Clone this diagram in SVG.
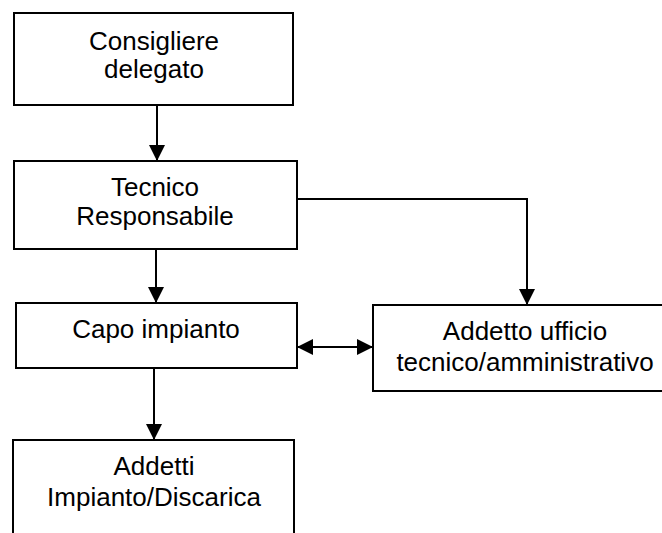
<svg xmlns="http://www.w3.org/2000/svg" width="662" height="533" viewBox="0 0 662 533">
<style>
.box{fill:#fff;stroke:#000;stroke-width:2}
.t{font-family:"Liberation Sans",Arial,sans-serif;font-size:26px;fill:#000;text-anchor:middle}
.c{fill:none;stroke:#000;stroke-width:2}
</style>
<defs>
<marker id="ah" markerUnits="userSpaceOnUse" markerWidth="16" markerHeight="16" refX="16" refY="8" orient="auto-start-reverse" viewBox="0 0 16 16">
<path d="M0,0 L16,8 L0,16 z" fill="#000"/>
</marker>
</defs>
<rect width="662" height="533" fill="#fff"/>
<g id="connectors">
<path class="c" d="M157,105 V161" marker-end="url(#ah)"/>
<path class="c" d="M156,249 V303" marker-end="url(#ah)"/>
<path class="c" d="M297,199 H527 V305" marker-end="url(#ah)"/>
<path class="c" d="M297,347 H373" marker-start="url(#ah)" marker-end="url(#ah)"/>
<path class="c" d="M154,368 V440" marker-end="url(#ah)"/>
</g>
<g id="n1">
<rect class="box" x="14" y="13" width="279" height="92"/>
<text class="t" x="154" y="50">Consigliere</text>
<text class="t" x="154" y="78">delegato</text>
</g>
<g id="n2">
<rect class="box" x="14" y="161" width="283" height="88"/>
<text class="t" x="155" y="196">Tecnico</text>
<text class="t" x="155" y="225">Responsabile</text>
</g>
<g id="n3">
<rect class="box" x="16" y="303" width="281" height="65"/>
<text class="t" x="156" y="338">Capo impianto</text>
</g>
<g id="n4">
<rect class="box" x="373" y="305" width="305" height="86"/>
<text class="t" x="525" y="340">Addetto ufficio</text>
<text class="t" x="525" y="371">tecnico/amministrativo</text>
</g>
<g id="n5">
<rect class="box" x="13" y="440" width="281" height="110"/>
<text class="t" x="154" y="475">Addetti</text>
<text class="t" x="154" y="506">Impianto/Discarica</text>
</g>
</svg>
